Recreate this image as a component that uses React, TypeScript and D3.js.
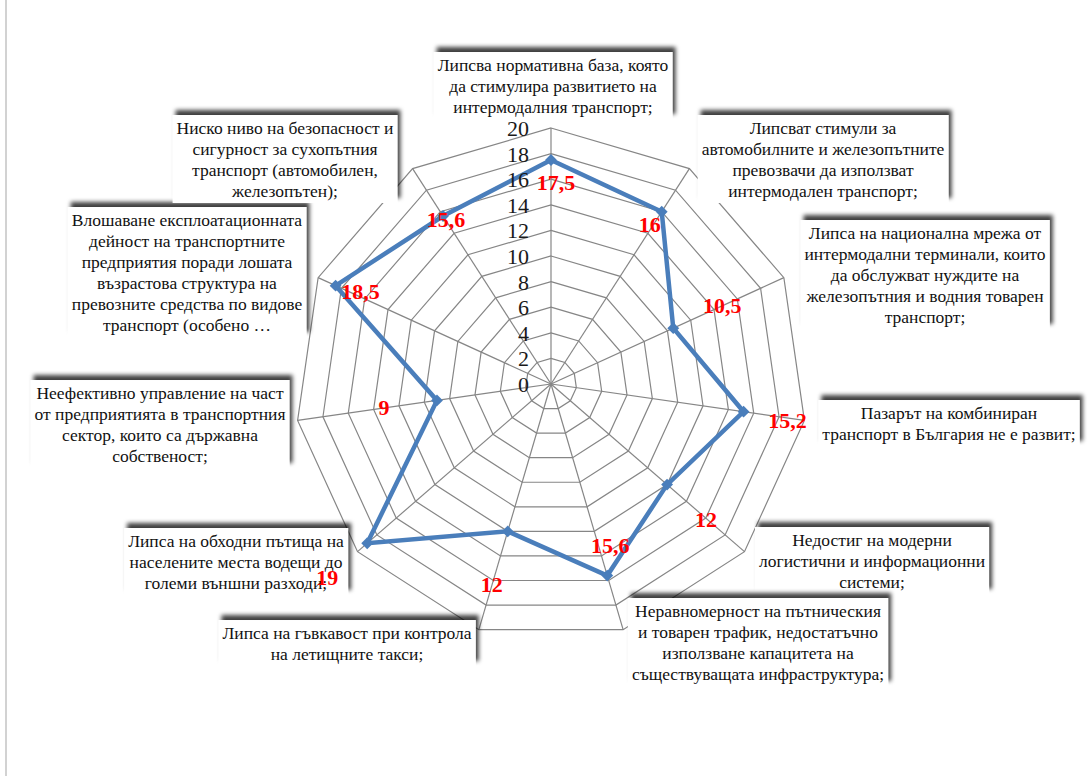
import React, { useRef, useEffect } from 'react';
import * as d3 from 'd3';

// categories (each line of the label box), top of the chart going clockwise
const categories = [
  ['Липсва нормативна база, която', 'да стимулира развитието на', 'интермодалния транспорт;'],
  ['Липсват стимули за', 'автомобилните и железопътните', 'превозвачи да използват', 'интермодален транспорт;'],
  ['Липса на национална мрежа от', 'интермодални терминали, които', 'да обслужват нуждите на', 'железопътния и водния товарен', 'транспорт;'],
  ['Пазарът на комбиниран', 'транспорт в България не е развит;'],
  ['Недостиг на модерни', 'логистични и информационни', 'системи;'],
  ['Неравномерност на пътническия', 'и товарен трафик, недостатъчно', 'използване капацитета на', 'съществуващата инфраструктура;'],
  ['Липса на гъвкавост при контрола', 'на летищните такси;'],
  ['Липса на обходни пътища на', 'населените места водещи до', 'големи външни разходи;'],
  ['Неефективно управление на част', 'от предприятията в транспортния', 'сектор, които са държавна', 'собственост;'],
  ['Влошаване експлоатационната', 'дейност на транспортните', 'предприятия поради лошата', 'възрастова структура на', 'превозните средства по видове', 'транспорт (особено …'],
  ['Ниско ниво на безопасност и', 'сигурност за сухопътния', 'транспорт (автомобилен,', 'железопътен);'],
];

const values = [17.5, 16, 10.5, 15.2, 12, 15.6, 12, 19, 9, 18.5, 15.6];
const valueLabels = ['17,5', '16', '10,5', '15,2', '12', '15,6', '12', '19', '9', '18,5', '15,6'];
const tickValues = [0, 2, 4, 6, 8, 10, 12, 14, 16, 18, 20];

// where each category box sits: text centre x, first line centre y
const boxCx = [553, 823, 925, 949, 872, 758, 347, 236, 160, 187, 285];
const boxY = [67, 130, 235, 415, 542, 613, 635, 543, 395, 222, 130];
// value label nudges from the data point
const labelDx = [5, -12, 49, 44, 39, 3, -16, -40, -53, 25, 3];
const labelDy = [25, 15, -20, 11, 37, -28, 56, 37, 10, 8, 6];

const W = 1088;
const H = 776;
const cx = 551;
const cy = 384;
const R = 256;
const lineH = 21;
const serif = "'Liberation Serif', 'Times New Roman', 'DejaVu Serif', serif";

const App = () => {
  const svgRef = useRef(null);

  useEffect(() => {
    const svg = d3.select(svgRef.current);
    svg.selectAll('*').remove();

    const rScale = d3.scaleLinear().domain([0, 20]).range([0, R]);
    const aScale = d3.scaleLinear().domain([0, values.length]).range([0, 2 * Math.PI]);
    const pt = (i, v) => [cx + rScale(v) * Math.sin(aScale(i)), cy - rScale(v) * Math.cos(aScale(i))];

    const defs = svg.append('defs');
    const f = defs.append('filter').attr('id', 'shadow').attr('x', '-10%').attr('y', '-30%').attr('width', '120%').attr('height', '160%');
    f.append('feDropShadow').attr('dx', 3).attr('dy', -5).attr('stdDeviation', 2.2)
      .attr('flood-color', '#000').attr('flood-opacity', 0.75);

    svg.append('rect').attr('width', W).attr('height', H).attr('fill', '#fff');
    svg.append('line').attr('x1', 6).attr('x2', 6).attr('y1', 0).attr('y2', H)
      .attr('stroke', '#d2d2d2').attr('stroke-width', 2);

    const g = svg.append('g');
    const radial = d3.lineRadial().curve(d3.curveLinearClosed);
    const idx = d3.range(values.length);

    // grid rings
    g.selectAll('.ring').data(tickValues.slice(1)).join('path')
      .attr('class', 'ring')
      .attr('transform', `translate(${cx},${cy})`)
      .attr('d', t => radial(idx.map(i => [aScale(i), rScale(t)])))
      .attr('fill', 'none').attr('stroke', '#868686').attr('stroke-width', 1.2);
    // spokes
    g.selectAll('.spoke').data(idx).join('line')
      .attr('class', 'spoke')
      .attr('x1', cx).attr('y1', cy)
      .attr('x2', i => pt(i, 20)[0]).attr('y2', i => pt(i, 20)[1])
      .attr('stroke', '#868686').attr('stroke-width', 1.2);

    // series
    g.append('path')
      .attr('transform', `translate(${cx},${cy})`)
      .attr('d', radial(values.map((v, i) => [aScale(i), rScale(v)])))
      .attr('fill', 'none').attr('stroke', '#4A7EBB').attr('stroke-width', 4.5)
      .attr('stroke-linejoin', 'miter');
    g.selectAll('.mark').data(values).join('path')
      .attr('class', 'mark')
      .attr('transform', (v, i) => `translate(${pt(i, v)[0]},${pt(i, v)[1]}) rotate(45)`)
      .attr('d', d3.symbol(d3.symbolSquare, 70)())
      .attr('fill', '#4A7EBB');

    // tick labels
    g.selectAll('.tick').data(tickValues).join('text')
      .attr('class', 'tick')
      .attr('x', cx - 22).attr('y', t => cy - rScale(t) + 3)
      .attr('text-anchor', 'end').attr('dominant-baseline', 'middle')
      .style('font-family', serif).attr('font-size', 22)
      .attr('fill', '#1a1a1a')
      .text(t => t);

    // category boxes
    categories.forEach((lines, i) => {
      const bg = svg.append('g');
      const rect = bg.append('rect').attr('fill', '#fff').attr('filter', 'url(#shadow)');
      const txt = bg.append('text')
        .style('font-family', serif).attr('font-size', 17.5)
        .attr('fill', '#111').attr('text-anchor', 'middle');
      lines.forEach((l, k) => {
        txt.append('tspan').attr('x', boxCx[i]).attr('y', boxY[i] + k * lineH)
          .attr('dominant-baseline', 'middle').text(l);
      });
      const bb = txt.node().getBBox();
      rect.attr('x', bb.x - 4).attr('y', bb.y - 3)
        .attr('width', bb.width + 8).attr('height', bb.height + 5);
    });

    // value labels
    svg.selectAll('.vlab').data(values).join('text')
      .attr('class', 'vlab')
      .attr('x', (v, i) => pt(i, v)[0] + labelDx[i])
      .attr('y', (v, i) => pt(i, v)[1] + labelDy[i])
      .attr('text-anchor', 'middle').attr('dominant-baseline', 'middle')
      .style('font-family', serif).attr('font-size', 22)
      .attr('font-weight', 'bold').attr('fill', '#FF0000')
      .text((v, i) => valueLabels[i]);
  }, []);

  return (
    <svg ref={svgRef} width={W} height={H}
      style={{ position: 'absolute', left: 0, top: 0, display: 'block' }} />
  );
};

export default App;
